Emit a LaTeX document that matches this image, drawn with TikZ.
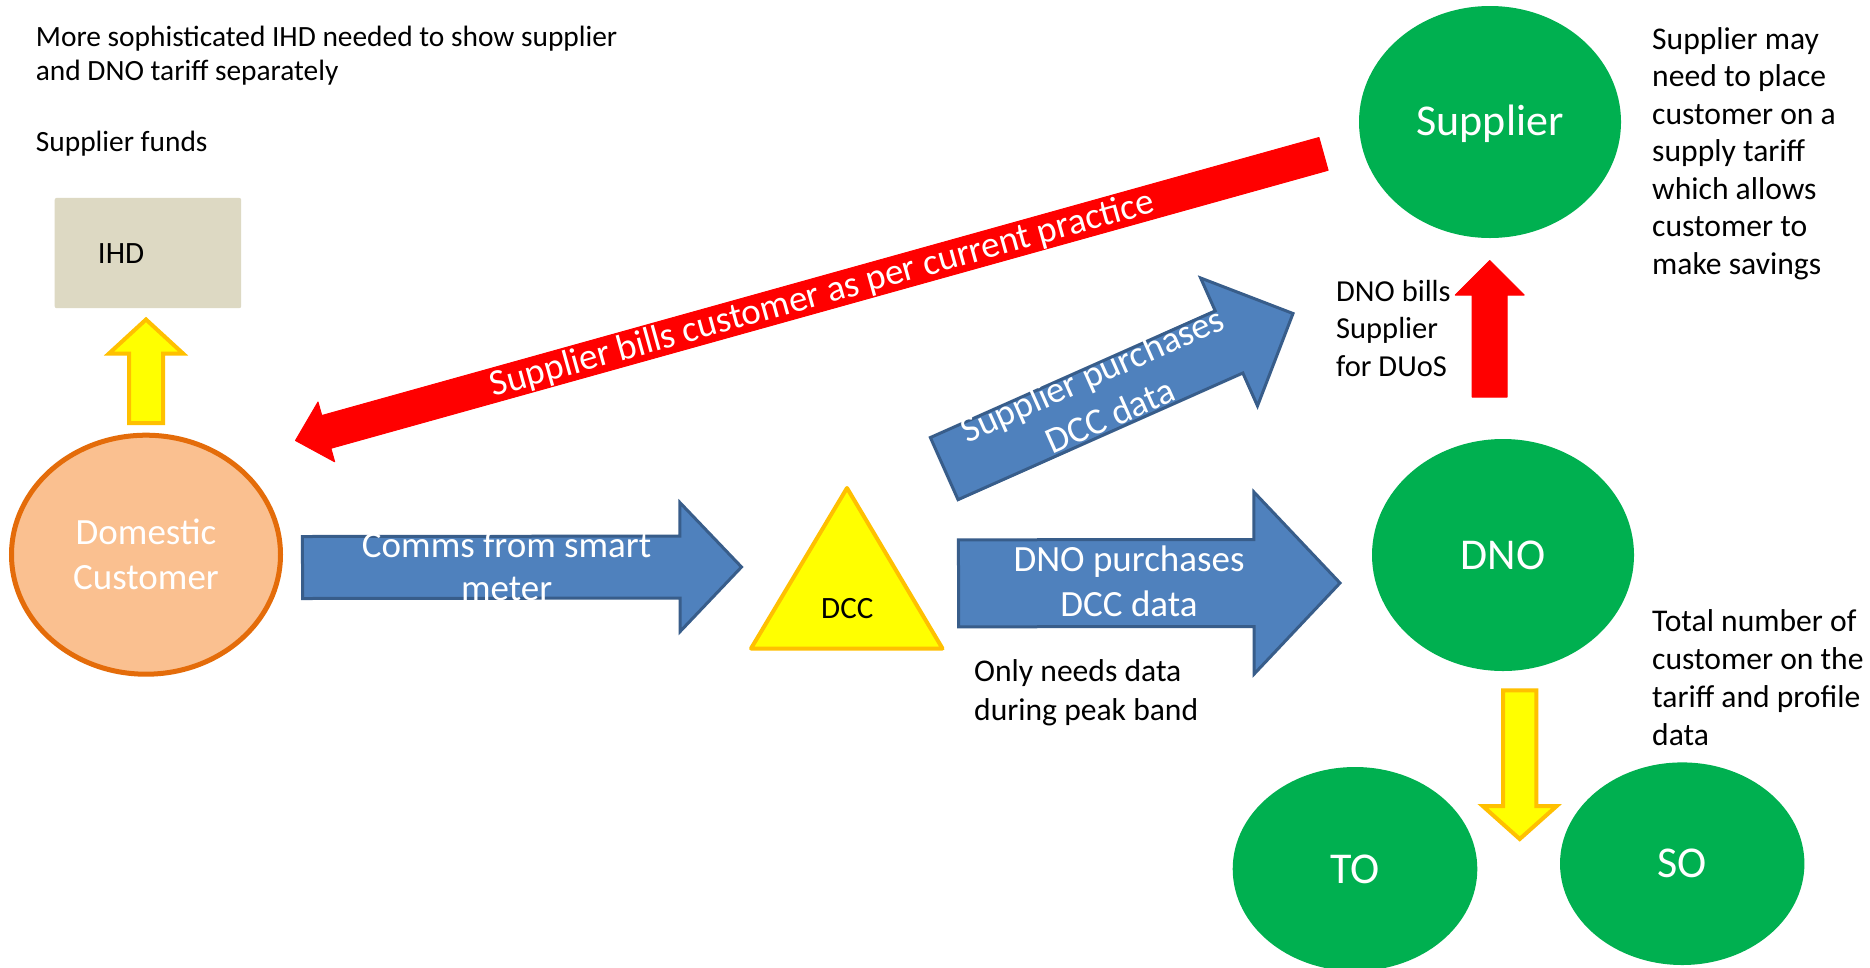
\documentclass[tikz,border=0pt]{standalone}
\usepackage{fontspec}
\setmainfont{Carlito}
\usetikzlibrary{calc,shapes.geometric}

\definecolor{arrowblue}{HTML}{4F81BD}
\definecolor{arrowblueline}{HTML}{385D8A}
\definecolor{billred}{HTML}{FF0000}
\definecolor{flowyellow}{HTML}{FFFF00}
\definecolor{flowyellowline}{HTML}{FFC000}
\definecolor{custfill}{HTML}{FAC090}
\definecolor{custline}{HTML}{E46C0A}
\definecolor{partygreen}{HTML}{00B050}
\definecolor{ihdfill}{HTML}{DDD9C3}

% Block arrow: #1 style, #2 tail, #3 tip, #4 shaft half-width,
% #5 head half-width, #6 head length
\newcommand{\blockarrow}[6]{%
  \coordinate (ba-h) at ($(#3)!#6!(#2)$);
  \draw[#1] ($(#2)!#4!90:(#3)$) -- ($(ba-h)!#4!-90:(#2)$) -- ($(ba-h)!#5!-90:(#2)$)
    -- (#3) -- ($(ba-h)!#5!90:(#2)$) -- ($(ba-h)!#4!90:(#2)$)
    -- ($(#2)!#4!-90:(#3)$) -- cycle;
}

\begin{document}
\begin{tikzpicture}[x=1pt,y=-1pt,
  blockblue/.style={fill=arrowblue, draw=arrowblueline, line width=3pt, line join=miter},
  blockred/.style={fill=billred, draw=billred, line width=1pt, line join=round},
  blockyellow/.style={fill=flowyellow, draw=flowyellowline, line width=4pt, line join=miter},
  party/.style={ellipse, fill=partygreen, text=white, inner sep=0pt,
    font=\fontsize{44pt}{53pt}\selectfont},
  note/.style={anchor=west, inner sep=0pt, align=left, text=black},
  arrowtext/.style={text=white, inner sep=0pt, align=center,
    font=\fontsize{37pt}{45pt}\selectfont},
]
\path[fill=white, use as bounding box] (0,0) rectangle (1870,967);

% parties
\node[ellipse, draw=custline, line width=5pt, fill=custfill,
  minimum width=269pt, minimum height=239pt, inner sep=0pt, text=white,
  align=center, font=\fontsize{37pt}{45pt}\selectfont] (cust) at (146,554.7) {Domestic\\Customer};
\node[party, minimum width=262pt, minimum height=232pt, text depth=4pt] (supplier) at (1490,122) {Supplier};
\node[party, minimum width=262pt, minimum height=232pt] (dno) at (1503,555) {DNO};
\node[party, minimum width=244.6pt, minimum height=204pt] (to-node) at (1355,869) {TO};
\node[party, minimum width=244.4pt, minimum height=202.6pt] (so-node) at (1682.2,863.7) {SO};

% in-home display
\node[fill=ihdfill, rounded corners=2pt, anchor=north west,
  minimum width=186.5pt, minimum height=110.3pt, text width=100pt,
  inner xsep=42.8pt, inner ysep=0pt, align=left,
  font=\fontsize{31pt}{37pt}\selectfont] (ihd) at (54.5,197.7) {IHD};

% DCC
\draw[fill=flowyellow, draw=flowyellowline, line width=4pt, line join=round]
  (847,488) -- (942.5,648.5) -- (751,648.5) -- cycle;
\node[inner sep=0pt, font=\fontsize{31pt}{37pt}\selectfont] (dcc) at (847.3,609) {DCC};

% arrow end points
\coordinate (up-tail) at (146,423);
\coordinate (up-tip) at (146,319.5);
\coordinate (down-tail) at (1519.7,690.3);
\coordinate (down-tip) at (1519.7,839);
\coordinate (duos-tail) at (1489.7,397);
\coordinate (duos-tip) at (1489.7,260.5);
\coordinate (comms-tail) at (302.5,567.5);
\coordinate (comms-tip) at (741.5,567);
\coordinate (dnop-tail) at (958.5,583.3);
\coordinate (dnop-tip) at (1340,583);
\coordinate (sp-tail) at (944.2,468.6);
\coordinate (sp-tip) at (1293,313.5);
\coordinate (red-tail) at (1323.5,153.9);
\coordinate (red-tip) at (295.5,440.5);

% arrows
\blockarrow{blockyellow}{up-tail}{up-tip}{17pt}{37pt}{34pt}
\blockarrow{blockyellow}{down-tail}{down-tip}{16.7pt}{37pt}{33pt}
\blockarrow{blockred}{duos-tail}{duos-tip}{17.5pt}{34.5pt}{34.5pt}
\blockarrow{blockblue}{comms-tail}{comms-tip}{31pt}{64.5pt}{61.5pt}
\blockarrow{blockblue}{dnop-tail}{dnop-tip}{43.5pt}{91pt}{86pt}
\blockarrow{blockblue}{sp-tail}{sp-tip}{34pt}{70pt}{70pt}
\blockarrow{blockred}{red-tail}{red-tip}{17pt}{31pt}{32pt}

% arrow labels
\node[arrowtext, font=\fontsize{37pt}{43pt}\selectfont] (comms-label) at (506.6,570)
  {\strut Comms from smart\\\strut meter};
\node[arrowtext] (dnop-label) at (1129,585.2) {\strut DNO purchases\\\strut DCC data};
\node[arrowtext, rotate=23.96] (sp-label) at ($(sp-tail)!0.454!(sp-tip)$)
  {\strut Supplier purchases\\\strut DCC data};
\node[arrowtext, rotate=15.58, yshift=-2pt] (bill-label) at ($(red-tail)!0.488!(red-tip)$)
  {\strut Supplier bills customer as per current practice};

% notes
\node[note, font=\fontsize{29.4pt}{33.5pt}\selectfont] (note-ihd) at (35.7,56.65)
  {\strut More sophisticated IHD needed to show supplier\\\strut and DNO tariff separately};
\node[note, font=\fontsize{29.4pt}{33.5pt}\selectfont] (note-funds) at (35.7,144.3)
  {\strut Supplier funds};
\node[note, font=\fontsize{31.6pt}{37.5pt}\selectfont] (note-tariff) at (1652,154.3)
  {\strut Supplier may\\\strut need to place\\\strut customer on a\\\strut supply tariff\\\strut which allows\\\strut customer to\\\strut make savings};
\node[note, font=\fontsize{30.5pt}{37.2pt}\selectfont] (note-duos) at (1336,331.4)
  {\strut DNO bills\\\strut Supplier\\\strut for DUoS};
\node[note, font=\fontsize{31.6pt}{38.3pt}\selectfont] (note-peak) at (974,693.2)
  {\strut Only needs data\\\strut during peak band};
\node[note, font=\fontsize{31.6pt}{37.8pt}\selectfont] (note-total) at (1652,680.8)
  {\strut Total number of\\\strut customer on the\\\strut tariff and profile\\\strut data};
\end{tikzpicture}
\end{document}
